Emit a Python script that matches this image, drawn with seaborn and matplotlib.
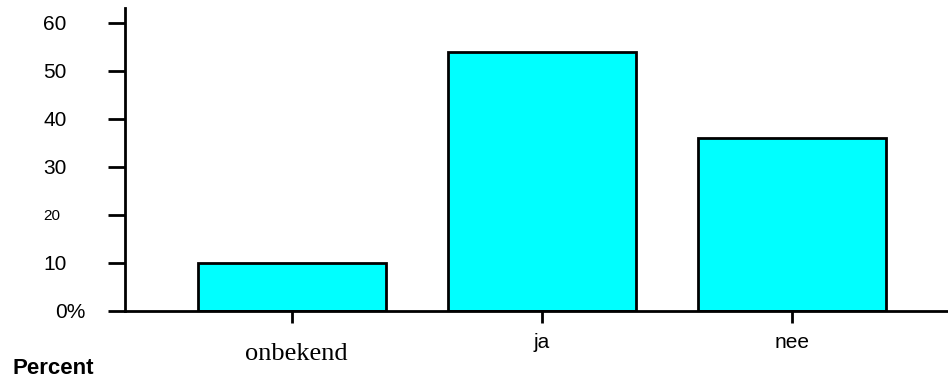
import matplotlib
matplotlib.use("Agg")
import matplotlib.pyplot as plt
from matplotlib.transforms import ScaledTranslation
import seaborn as sns
import pandas as pd

sns.set_style("white")
plt.rcParams['font.family'] = ['Liberation Sans', 'DejaVu Sans']
plt.rcParams['text.color'] = 'black'
plt.rcParams['xtick.color'] = 'black'
plt.rcParams['ytick.color'] = 'black'

# data
categories = ['onbekend', 'ja', 'nee']
percent = [10, 54, 36]
ytick_vals = [0, 10, 20, 30, 40, 50, 60]
ytick_labels = ['0%', '10', '20', '30', '40', '50', '60']

df = pd.DataFrame({'cat': categories, 'pct': percent})

fig = plt.figure(figsize=(9.48, 3.81), dpi=100)
ax = fig.add_axes([125 / 948, 1 - 311 / 381, 1 - 125 / 948, 303 / 381])

sns.barplot(data=df, x='cat', y='pct', color='#00FFFF', saturation=1,
            edgecolor='black', linewidth=2, width=0.75, ax=ax)

ax.set_xlim(-0.668, 2.624)
ax.set_ylim(0, 63.1)
ax.set_xlabel('')
ax.set_ylabel('')

for s in ['top', 'right']:
    ax.spines[s].set_visible(False)
for s in ['left', 'bottom']:
    ax.spines[s].set_linewidth(2)
    ax.spines[s].set_color('black')

# y ticks
ax.set_yticks(ytick_vals)
ax.set_yticklabels(ytick_labels)
ax.tick_params(axis='y', left=True, length=12, width=2, direction='out', pad=47,
               labelsize=15, labelcolor='black')
for lab in ax.get_yticklabels():
    lab.set_horizontalalignment('left')
    if lab.get_text() == '20':
        lab.set_fontsize(11)
    if lab.get_text() == '0%':
        lab.set_transform(lab.get_transform() + ScaledTranslation(12 / 100, 0, fig.dpi_scale_trans))

# x ticks
ax.tick_params(axis='x', bottom=True, length=8.6, width=2, direction='out', pad=7,
               labelsize=15, labelcolor='black')
for lab in ax.get_xticklabels():
    if lab.get_text() == 'onbekend':
        lab.set_family(['Liberation Serif', 'DejaVu Serif'])
        lab.set_fontsize(19)
        lab.set_transform(lab.get_transform() + ScaledTranslation(4 / 100, -10 / 100, fig.dpi_scale_trans))

fig.text(12 / 948, 1 - 368 / 381, 'Percent', fontsize=16, fontweight='bold', va='center', ha='left')

fig.savefig('out.png', dpi=100)
